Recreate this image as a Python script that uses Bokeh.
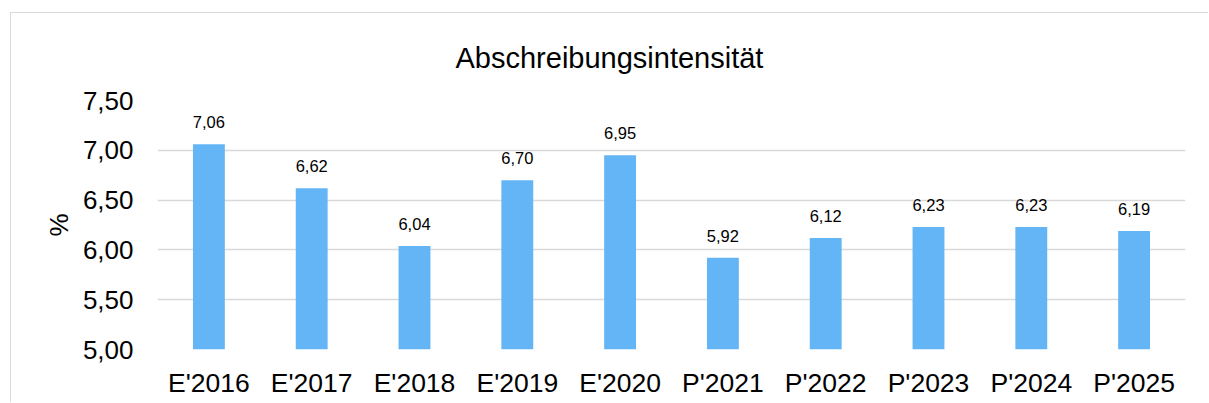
from bokeh.plotting import figure
from bokeh.models import FactorRange, Range1d, FixedTicker, Title, ColumnDataSource
from bokeh.core.properties import value
from bokeh.embed import file_html
from bokeh.resources import INLINE

categories = ["E'2016", "E'2017", "E'2018", "E'2019", "E'2020",
              "P'2021", "P'2022", "P'2023", "P'2024", "P'2025"]
values = [7.06, 6.62, 6.04, 6.70, 6.95, 5.92, 6.12, 6.23, 6.23, 6.19]
y_ticks = [5.0, 5.5, 6.0, 6.5, 7.0, 7.5]
y_tick_labels = ["5,00", "5,50", "6,00", "6,50", "7,00", "7,50"]
title_text = "Abschreibungsintensität"
y_label = "%"

FONT = "Liberation Sans"
BAR_COLOR = "#64B5F6"
GRID_COLOR = "#D9D9D9"

labels = [f"{v:.2f}".replace(".", ",") for v in values]
source = ColumnDataSource(dict(cat=categories, val=values, lab=labels))

p = figure(
    x_range=FactorRange(*categories, range_padding=0),
    y_range=Range1d(5.0, 7.5),
    width=1198, height=390,
    output_backend="svg", toolbar_location=None,
    min_border_left=146, min_border_right=24,
    min_border_top=86, min_border_bottom=54,
)
p.margin = (12, 0, 0, 10)
p.styles = {"border-top": "1px solid #D9D9D9", "border-left": "1px solid #D9D9D9"}

p.vbar(x="cat", top="val", bottom=5.0, width=0.31, source=source,
       fill_color=BAR_COLOR, line_color=None)

p.text(x="cat", y="val", text="lab", source=source,
       text_align="center", text_baseline="alphabetic", y_offset=-22,
       text_font=value(FONT), text_font_size="16.5px", text_color="#000000")

t = Title(text=title_text, align="left", offset=298, standoff=53,
          text_font=FONT, text_font_size="29px", text_font_style="normal",
          text_color="#000000")
p.add_layout(t, "above")

p.outline_line_color = None
p.background_fill_color = "white"
p.border_fill_color = "white"

p.xgrid.grid_line_color = None
p.ygrid.grid_line_color = GRID_COLOR
p.ygrid.grid_line_width = 1.5
p.ygrid.ticker = FixedTicker(ticks=y_ticks)

p.yaxis.ticker = FixedTicker(ticks=y_ticks)
p.yaxis.major_label_overrides = {t_: l for t_, l in zip(y_ticks, y_tick_labels)}
p.yaxis.axis_line_color = None
p.yaxis.major_tick_line_color = None
p.yaxis.minor_tick_line_color = None
p.yaxis.major_label_standoff = 18
p.yaxis.major_label_text_font = FONT
p.yaxis.major_label_text_font_size = "26px"
p.yaxis.major_label_text_color = "#000000"
p.yaxis.axis_label = y_label
p.yaxis.axis_label_text_font = FONT
p.yaxis.axis_label_text_font_size = "26px"
p.yaxis.axis_label_text_font_style = "normal"
p.yaxis.axis_label_text_color = "#000000"
p.yaxis.axis_label_standoff = 6

p.xaxis.axis_line_color = None
p.xaxis.major_tick_line_color = None
p.xaxis.minor_tick_line_color = None
p.xaxis.major_label_standoff = 12
p.xaxis.major_label_text_font = FONT
p.xaxis.major_label_text_font_size = "26.5px"
p.xaxis.major_label_text_color = "#000000"

open("out.html", "w").write(file_html(p, INLINE))
